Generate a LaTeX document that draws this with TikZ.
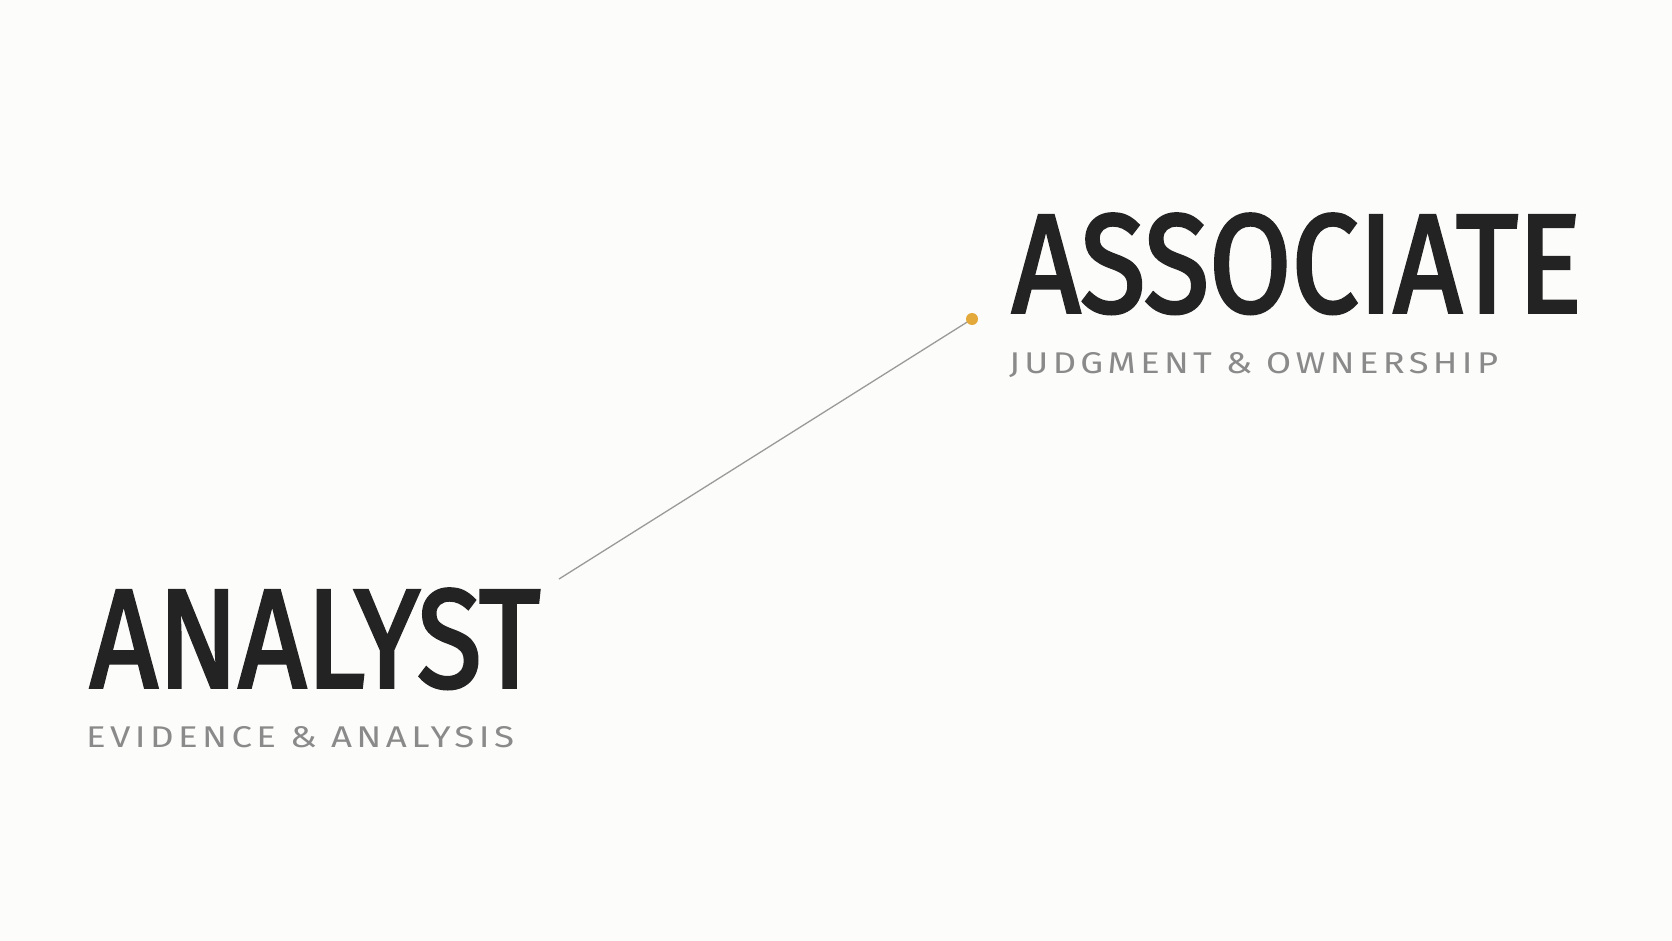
\documentclass[tikz,border=0pt]{standalone}
\usepackage{fontspec}
\usepackage{graphicx}
\setmainfont{Fira Sans}
\newfontfamily\headfont{Fira Sans}[FakeBold=2.6]
\newfontfamily\subfont{Fira Sans}[LetterSpace=12]
\definecolor{bgcol}{HTML}{FCFCFA}
\definecolor{headcol}{HTML}{232323}
\definecolor{subcol}{HTML}{8A8A8A}
\definecolor{linecol}{HTML}{9A9A9A}
\definecolor{dotcol}{HTML}{E3A93A}
\tikzset{
  headtext/.style={inner sep=0pt, outer sep=0pt, anchor=base west, text=headcol},
  subtext/.style={inner sep=0pt, outer sep=0pt, anchor=base west, text=subcol},
  conn/.style={draw=linecol, line width=1.3pt},
  golddot/.style={circle, fill=dotcol, draw=none, minimum size=12pt, inner sep=0pt}
}
\begin{document}
\begin{tikzpicture}[x=1pt,y=-1pt]
\fill[bgcol] (0,0) rectangle (1672,941);
\useasboundingbox (0,0) rectangle (1672,941);
\node[headtext] (analyst) at (90,687) {\resizebox{450pt}{98pt}{\headfont ANALYST}};
\node[subtext] (analystsub) at (86,747) {\resizebox{428pt}{21pt}{\subfont EVIDENCE \& ANALYSIS}};
\node[headtext] (associate) at (1012,312) {\resizebox{569pt}{98pt}{\headfont ASSOCIATE}};
\node[subtext] (associatesub) at (1009,373) {\resizebox{489pt}{21pt}{\subfont JUDGMENT \& OWNERSHIP}};
\coordinate (lstart) at (559,579);
\coordinate (dotc) at (972,319);
\draw[conn] (lstart) -- (dotc);
\node[golddot] (dot) at (dotc) {};
\end{tikzpicture}
\end{document}
